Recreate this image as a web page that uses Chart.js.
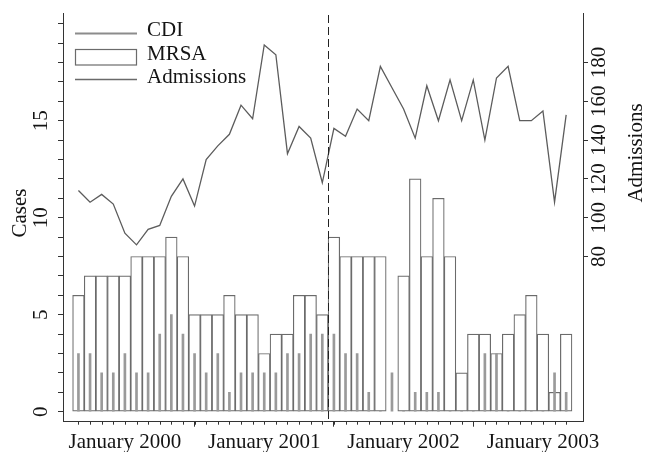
<!DOCTYPE html>
<html>
<head>
<meta charset="utf-8">
<script src="https://cdn.jsdelivr.net/npm/chart.js@4"></script>
<style>
  body { margin: 0; background: #fff; }
</style>
</head>
<body>
<canvas id="chart" width="649" height="452"></canvas>
<script>
// monthly data, Sep 1999 .. Mar 2003
const months = [
  '1999-09','1999-10','1999-11','1999-12',
  '2000-01','2000-02','2000-03','2000-04','2000-05','2000-06','2000-07','2000-08','2000-09','2000-10','2000-11','2000-12',
  '2001-01','2001-02','2001-03','2001-04','2001-05','2001-06','2001-07','2001-08','2001-09','2001-10','2001-11','2001-12',
  '2002-01','2002-02','2002-03','2002-04','2002-05','2002-06','2002-07','2002-08','2002-09','2002-10','2002-11','2002-12',
  '2003-01','2003-02','2003-03'
];
const mrsa = [6,7,7,7,7,8,8,8,9,8,5,5,5,6,5,5,3,4,4,6,6,5,9,8,8,8,8,null,7,12,8,11,8,2,4,4,3,4,5,6,4,1,4];
const cdi = [3,3,2,2,3,2,2,4,5,4,3,2,3,1,2,2,2,2,3,3,4,4,4,3,3,1,0,2,0,1,1,1,0,0,0,3,3,0,0,0,0,2,1];
const admissions = [114,108,112,107,92,86,94,96,111,120,106,130,137,143,158,151,189,184,133,147,141,118,146,142,156,150,178,167,156,141,168,150,171,150,171,140,172,178,150,150,155,108,153];

const caseTicks = [0,5,10,15];
const admTicks = [80,100,120,140,160,180];
const yearTicks = ['2000-01','2001-01','2002-01','2003-01'];
const yearLabels = ['January 2000','January 2001','January 2002','January 2003'];
const breakMonth = '2001-07';   // dashed line before this month

const FONT = '21px "Liberation Serif", "DejaVu Serif", serif';
const INK = '#141414';

const pos = m => months.indexOf(m) + 1;

function vtext(ctx, str, cx, cy) {
  ctx.save();
  ctx.translate(cx, cy);
  ctx.rotate(-Math.PI / 2);
  ctx.textAlign = 'center';
  ctx.textBaseline = 'middle';
  ctx.fillText(str, 0, 0);
  ctx.restore();
}

const decor = {
  id: 'decor',
  afterDraw(chart) {
    const ctx = chart.ctx;
    const { x, y, y1 } = chart.scales;
    const area = chart.chartArea;
    ctx.save();

    // monthly minor ticks
    ctx.strokeStyle = '#333';
    ctx.lineWidth = 1;
    months.forEach((m, i) => {
      const px = Math.round(x.getPixelForValue(i + 1)) + 0.5;
      ctx.beginPath();
      ctx.moveTo(px, area.bottom);
      ctx.lineTo(px, area.bottom + 3);
      ctx.stroke();
    });

    // dashed break line
    const bx = Math.round(x.getPixelForValue(pos(breakMonth) - 0.5)) + 0.5;
    ctx.setLineDash([8, 4]);
    ctx.strokeStyle = '#222';
    ctx.beginPath();
    ctx.moveTo(bx, area.top + 2);
    ctx.lineTo(bx, area.bottom);
    ctx.stroke();
    ctx.setLineDash([]);

    ctx.font = FONT;
    ctx.fillStyle = INK;

    // x labels
    ctx.textAlign = 'center';
    ctx.textBaseline = 'alphabetic';
    yearTicks.forEach((m, i) => {
      ctx.fillText(yearLabels[i], x.getPixelForValue(pos(m)), 447.5);
    });

    // y labels (rotated)
    caseTicks.forEach(v => vtext(ctx, String(v), 41, y.getPixelForValue(v)));
    admTicks.forEach(v => vtext(ctx, String(v), 599, y1.getPixelForValue(v)));

    // axis titles
    vtext(ctx, 'Cases', 20, 213);
    vtext(ctx, 'Admissions', 636, 153);

    // legend
    ctx.lineWidth = 2.2;
    ctx.strokeStyle = '#8c8c8c';
    ctx.beginPath(); ctx.moveTo(75, 33.5); ctx.lineTo(137, 33.5); ctx.stroke();
    ctx.lineWidth = 1.2;
    ctx.strokeStyle = '#6b6b6b';
    ctx.strokeRect(75.5, 49.5, 61, 15.5);
    ctx.lineWidth = 1.4;
    ctx.strokeStyle = '#6a6a6a';
    ctx.beginPath(); ctx.moveTo(75, 79.5); ctx.lineTo(137, 79.5); ctx.stroke();
    ctx.textAlign = 'left';
    ctx.fillText('CDI', 147, 36);
    ctx.fillText('MRSA', 147, 60);
    ctx.fillText('Admissions', 147, 82.5);

    ctx.restore();
  }
};

const axisLine = { display: true, color: '#333', width: 1 };
const tickOnly = { drawOnChartArea: false, drawTicks: true, tickLength: 5, color: '#333' };

new Chart(document.getElementById('chart'), {
  data: {
    datasets: [
      {
        type: 'line',
        label: 'Admissions',
        data: admissions.map((v, i) => ({ x: i + 1, y: v })),
        yAxisID: 'y1',
        borderColor: '#5c5c5c',
        borderWidth: 1.3,
        pointRadius: 0,
        tension: 0,
        order: 0
      },
      {
        type: 'bar',
        label: 'CDI',
        data: cdi.map((v, i) => ({ x: i + 1, y: v })),
        yAxisID: 'y',
        backgroundColor: '#9a9a9a',
        borderWidth: 0,
        barThickness: 2,
        grouped: false,
        order: 1
      },
      {
        type: 'bar',
        label: 'MRSA',
        data: mrsa.map((v, i) => ({ x: i + 1, y: v })),
        yAxisID: 'y',
        backgroundColor: '#ffffff',
        borderColor: '#6b6b6b',
        borderWidth: 1.2,
        borderSkipped: false,
        barPercentage: 1,
        categoryPercentage: 1,
        grouped: false,
        order: 2
      }
    ]
  },
  options: {
    responsive: false,
    animation: false,
    layout: { padding: { top: 13, left: 0, right: 0, bottom: 0 } },
    plugins: { legend: { display: false }, tooltip: { enabled: false } },
    scales: {
      x: {
        type: 'linear',
        offset: false,
        min: -0.33,
        max: 44.45,
        afterBuildTicks: s => { s.ticks = yearTicks.map(m => ({ value: pos(m) })); },
        afterFit: s => { s.height = 30.3; },
        ticks: { display: false },
        grid: tickOnly,
        border: axisLine
      },
      y: {
        position: 'left',
        min: -0.515,
        max: 20.55,
        afterBuildTicks: s => { s.ticks = Array.from({ length: 21 }, (_, i) => ({ value: i })); },
        afterFit: s => { s.width = 63; },
        ticks: { display: false },
        grid: tickOnly,
        border: axisLine
      },
      y1: {
        position: 'right',
        min: -5.15,
        max: 205.5,
        afterBuildTicks: s => { s.ticks = admTicks.map(v => ({ value: v })); },
        afterFit: s => { s.width = 66; },
        ticks: { display: false },
        grid: tickOnly,
        border: axisLine
      }
    }
  },
  plugins: [decor]
});
</script>
</body>
</html>
